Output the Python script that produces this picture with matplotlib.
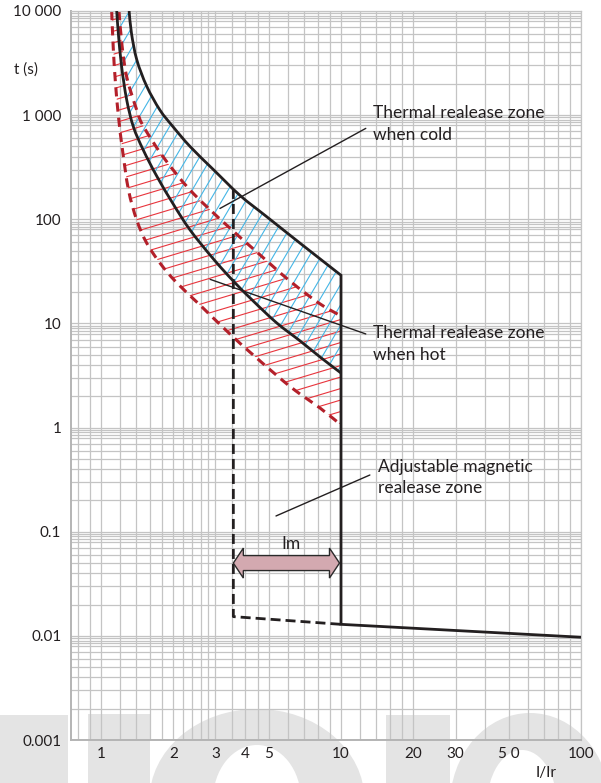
import numpy as np
import matplotlib.pyplot as plt
from matplotlib.patches import Polygon, Rectangle, Ellipse, PathPatch
from matplotlib.path import Path
from matplotlib.lines import Line2D

plt.rcParams['font.family'] = ['Lato', 'DejaVu Sans']

# Thermal release curves: I/Ir vs trip time t (s)
COLD_MAX_I = [1.31, 1.34, 1.41, 1.55, 1.76, 2.0, 2.35, 2.94, 3.79, 4.9, 6.75, 10.0]
COLD_MAX_T = [10000, 6100, 3400, 1900, 1120, 770, 500, 300, 170, 106, 59, 29]
COLD_MIN_I = [1.163, 1.181, 1.219, 1.28, 1.364, 1.5, 1.707, 2.0, 2.35, 2.94, 3.56, 4.31, 5.4, 6.75, 8.18, 10.0]
COLD_MIN_T = [10000, 6100, 2920, 1400, 775, 463, 260, 140, 79, 41.6, 25.5, 16.4, 10.1, 6.8, 4.76, 3.34]
HOT_MAX_I = [1.188, 1.223, 1.28, 1.409, 1.5, 1.818, 2.35, 3.23, 4.46, 6.13, 8.18, 10.0]
HOT_MAX_T = [10000, 4716, 2324, 1120, 787, 396, 191, 94.2, 48.5, 25.5, 15.4, 11.8]
HOT_MIN_I = [1.108, 1.125, 1.149, 1.183, 1.229, 1.302, 1.409, 1.55, 1.761, 2.054, 2.586, 3.447,
             4.31, 5.75, 6.75, 8.18, 10.0]
HOT_MIN_T = [10000, 4413, 2036, 960, 463, 191, 98.4, 59.2, 38.0, 25.0, 15.0, 7.91,
             4.97, 2.80, 2.10, 1.54, 1.06]

# Magnetic release
MAG_I = [10, 100]
MAG_T = [0.0129, 0.0097]
IM_LOW = 3.56
IM_LOW_T = 0.0153
IM_ARROW_T = 0.05

X_TICKS = [1, 2, 3, 4, 5, 10, 20, 30, 50, 100]
X_LABELS = ['1', '2', '3', '4', '5', '10', '20', '30', '5 0', '100']
X_GRID = [0.8, 0.9, 1.2, 1.4, 1.6, 1.8, 2.2, 2.4, 2.6, 2.8, 3.5, 4.5, 6, 7, 8, 9,
          12, 14, 16, 18, 40, 60, 70, 80, 90]
Y_TICKS = [1e-3, 1e-2, 1e-1, 1, 10, 100, 1000, 10000]
Y_LABELS = ['0.001', '0.01', '0.1', '1', '10', '100', '1 000', '10 000']

TXT = '#231f20'
GRID = '#c4c4c4'
RED_DASH = '#b3202a'
RED_HATCH = '#e8343c'
BLUE_HATCH = '#45b6e6'


def curve_verts(xs, ts):
    '''Catmull-Rom through the read points, as cubic Bezier pieces (log-log space).'''
    p = np.log10(np.column_stack([xs, ts]))
    n = len(p)
    verts = [p[0]]
    for i in range(n - 1):
        a = p[max(i - 1, 0)]
        d = p[min(i + 2, n - 1)]
        verts += [p[i] + (p[i + 1] - a) / 6, p[i + 1] - (d - p[i]) / 6, p[i + 1]]
    return list(10 ** np.array(verts))


def curve_codes(n, first=Path.MOVETO):
    return [first] + [Path.CURVE4] * (3 * (n - 1))


W, H = 601, 783
fig = plt.figure(figsize=(W / 100, H / 100), dpi=100)

# faint watermark at the bottom, in pixel coords
bg = fig.add_axes([0, 0, 1, 1], zorder=-1)
bg.set_xlim(0, W)
bg.set_ylim(H, 0)
bg.axis('off')
wm = '#e4e4e4'
bg.add_patch(Rectangle((0, 715), 68, 70, color=wm, lw=0))
bg.add_patch(Rectangle((88, 714), 62, 70, color=wm, lw=0))
bg.add_patch(Ellipse((257, 800), 215, 182, color=wm, lw=0))
bg.add_patch(Ellipse((257, 800), 88, 110, color='white', lw=0))
bg.add_patch(Rectangle((386, 715), 64, 70, color=wm, lw=0))
bg.add_patch(Ellipse((530, 805), 160, 184, color=wm, lw=0))
bg.add_patch(Ellipse((522, 805), 70, 110, color='white', lw=0))

AX_W, AX_H = 510, 729
ax = fig.add_axes([71 / W, 43 / H, AX_W / W, AX_H / H])
ax.patch.set_alpha(0)
ax.set_xscale('log')
ax.set_yscale('log')
ax.set_xlim(0.75, 100)
ax.set_ylim(1e-3, 1e4)
ax.autoscale(False)

ax.set_xticks(X_TICKS)
ax.set_xticklabels(X_LABELS)
ax.set_xticks(X_GRID, minor=True)
ax.set_xticklabels([], minor=True)
ax.set_yticks(Y_TICKS)
ax.set_yticklabels(Y_LABELS)
ax.set_yticks([m * d for d in Y_TICKS[:-1] for m in [2, 3, 4, 5, 6, 7, 8, 8.5, 9, 9.5]], minor=True)
ax.set_yticklabels([], minor=True)
ax.tick_params(which='both', length=0, labelsize=11, labelcolor=TXT)
ax.tick_params(axis='y', pad=7)
ax.tick_params(axis='x', pad=5)
ax.grid(True, which='both', color=GRID, lw=0.9, zorder=0)
ax.set_axisbelow(True)
for side in ax.spines:
    ax.spines[side].set_color(GRID)
    ax.spines[side].set_linewidth(0.9)
for side in ['left', 'bottom']:
    ax.spines[side].set_linewidth(1.4)
    ax.spines[side].set_color('#b4b4b4')


def zone_patch(upper_i, upper_t, lower_i, lower_t):
    verts = curve_verts(upper_i, upper_t) + curve_verts(lower_i[::-1], lower_t[::-1])
    codes = curve_codes(len(upper_i)) + curve_codes(len(lower_i), Path.LINETO)
    verts.append(verts[0])
    codes.append(Path.CLOSEPOLY)
    zone = PathPatch(Path(verts, codes), fill=False, edgecolor='none', transform=ax.transData)
    ax.add_patch(zone)
    return zone


def hatch_zone(zone, slope_px, step_px, color, steep):
    '''Parallel lines at a fixed on-screen angle, clipped to a zone.'''
    k = slope_px * AX_W / AX_H
    if steep:
        offsets = np.arange(-1 / k - 0.05, 1.05, step_px / AX_W)
        segs = [([c, c + 1 / k], [0, 1]) for c in offsets]
    else:
        offsets = np.arange(-k - 0.05, 1.05, step_px / AX_H)
        segs = [([0, 1], [c, c + k]) for c in offsets]
    for xs, ys in segs:
        ln = Line2D(xs, ys, transform=ax.transAxes, color=color, lw=0.8, zorder=1)
        ln.set_clip_path(zone)
        ax.add_line(ln)


hot = zone_patch(HOT_MAX_I, HOT_MAX_T, HOT_MIN_I, HOT_MIN_T)
cold = zone_patch(COLD_MAX_I, COLD_MAX_T, COLD_MIN_I, COLD_MIN_T)
hatch_zone(hot, 0.3, 11.5, RED_HATCH, False)
hatch_zone(cold, 1.7, 12, BLUE_HATCH, True)

# hot zone boundaries (dashed red)
for xs, ts in [(HOT_MIN_I, HOT_MIN_T), (HOT_MAX_I, HOT_MAX_T)]:
    ax.add_patch(PathPatch(Path(curve_verts(xs, ts), curve_codes(len(xs))), fill=False,
                           edgecolor=RED_DASH, lw=2.2, linestyle=(0, (3, 2)), zorder=2))

# cold zone boundaries, upper one running on into the magnetic release
verts = curve_verts(COLD_MAX_I, COLD_MAX_T) + list(zip(MAG_I, MAG_T))
codes = curve_codes(len(COLD_MAX_I)) + [Path.LINETO] * len(MAG_I)
ax.add_patch(PathPatch(Path(verts, codes), fill=False, edgecolor=TXT, lw=2,
                       joinstyle='miter', zorder=3))
ax.add_patch(PathPatch(Path(curve_verts(COLD_MIN_I, COLD_MIN_T), curve_codes(len(COLD_MIN_I))),
                       fill=False, edgecolor=TXT, lw=2, zorder=3))

t_top = 10 ** np.interp(np.log10(IM_LOW), np.log10(COLD_MAX_I), np.log10(COLD_MAX_T))
ax.plot([IM_LOW, IM_LOW, MAG_I[0]], [t_top, IM_LOW_T, MAG_T[0]], color=TXT, lw=2,
        dashes=(3.6, 1.8), zorder=3)

# Im double arrow (built in axes fraction so the shape keeps its size)
to_ax = ax.transData + ax.transAxes.inverted()
(xa0, ya), (xa1, _) = to_ax.transform([(IM_LOW, IM_ARROW_T), (MAG_I[0], IM_ARROW_T)])
xa1 -= 1.5 / AX_W
hl, hh, hs = 10 / AX_W, 15 / AX_H, 7.5 / AX_H
arrow = [(xa0, ya), (xa0 + hl, ya + hh), (xa0 + hl, ya + hs), (xa1 - hl, ya + hs),
         (xa1 - hl, ya + hh), (xa1, ya), (xa1 - hl, ya - hh), (xa1 - hl, ya - hs),
         (xa0 + hl, ya - hs), (xa0 + hl, ya - hh)]
ax.add_patch(Polygon(arrow, closed=True, transform=ax.transAxes, facecolor='#d3a9b0',
                     edgecolor='#2a2a2a', lw=1, zorder=4))
ax.annotate('Im', xy=(np.sqrt(IM_LOW * MAG_I[0]), IM_ARROW_T), xytext=(3, 10),
            textcoords='offset points', ha='center', va='baseline', fontsize=12.5,
            color=TXT, zorder=5)

# annotations
notes = [
    ('Thermal realease zone\nwhen cold', (3.13, 127), (0.578, 0.839), (0.592, 0.845)),
    ('Thermal realease zone\nwhen hot', (2.85, 26.5), (0.578, 0.557), (0.592, 0.543)),
    ('Adjustable magnetic\nrealease zone', (5.36, 0.1416), (0.586, 0.3635), (0.601, 0.360)),
]
for label, xy, tail, pos in notes:
    ax.annotate('', xy=xy, xycoords='data', xytext=tail, textcoords='axes fraction',
                arrowprops=dict(arrowstyle='-', color=TXT, lw=1, shrinkA=0, shrinkB=0),
                zorder=5)
    ax.text(pos[0], pos[1], label, transform=ax.transAxes, ha='left', va='center',
            fontsize=12.5, color=TXT, linespacing=1.45, zorder=5)

fig.text(26 / W, 1 - 70 / H, 't (s)', ha='center', va='center', fontsize=11, color=TXT)
fig.text(546 / W, 1 - 773 / H, 'I/Ir', ha='center', va='center', fontsize=11, color=TXT)

fig.savefig('out.png', dpi=100)
